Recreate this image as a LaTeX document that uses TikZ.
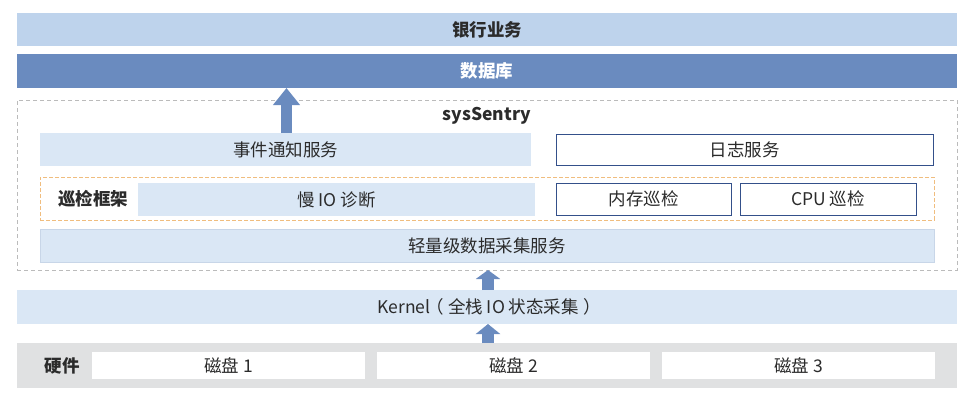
\documentclass[tikz,border=0pt]{standalone}
\usepackage{fontspec}
\setmainfont{Noto Sans CJK SC}
\usetikzlibrary{arrows.meta}
\definecolor{bankc}{HTML}{BED3EC}
\definecolor{dbc}{HTML}{6A8BBF}
\definecolor{lightc}{HTML}{DAE7F5}
\definecolor{grayc}{HTML}{E0E1E2}
\definecolor{framec}{HTML}{BBBBBB}
\definecolor{orangec}{HTML}{F0BD7E}
\definecolor{borderc}{HTML}{34508A}
\definecolor{textc}{HTML}{2B2B2B}
\definecolor{faintc}{HTML}{C8D6E8}
\tikzset{
  base/.style={inner sep=0pt, outer sep=0pt, text=textc, font=\fontsize{17.5}{19}\selectfont},
  lightbox/.style={base, fill=lightc, minimum height=33pt},
  outlinebox/.style={base, fill=white, draw=borderc, line width=1pt},
  diskbox/.style={base, fill=white, minimum width=273pt, minimum height=27pt},
  boldlabel/.style={base, font=\fontsize{17.5}{19}\selectfont\bfseries},
  bigarrow/.style={draw=dbc, line width=#1},
}
\begin{document}
\begin{tikzpicture}[x=1pt,y=-1pt]
\useasboundingbox (0,0) rectangle (971,418);
% top bars
\node[base, fill=bankc, minimum width=940pt, minimum height=33pt, font=\fontsize{17.5}{19}\selectfont\bfseries] (bank) at (487,29.5) {银行业务};
\node[base, fill=dbc, text=white, minimum width=940pt, minimum height=34pt, font=\fontsize{17.5}{19}\selectfont\bfseries] (db) at (487,71) {数据库};
% sysSentry frame
\node[base, draw=framec, dash pattern=on 4pt off 3pt, line width=0.8pt, minimum width=940pt, minimum height=170pt] (frame) at (487,185) {};
\node[boldlabel] (sys) at (487,116) {sysSentry};
\node[lightbox, minimum width=491pt] (shi) at (285.5,149.5) {事件通知服务};
\node[outlinebox, minimum width=377pt, minimum height=31pt] (log) at (744.5,149.5) {日志服务};
% inspection frame
\node[base, draw=orangec, dash pattern=on 4pt off 2pt, line width=1pt, minimum width=894pt, minimum height=43pt] (xj) at (487,198.5) {};
\node[boldlabel] (xjlabel) at (93,199) {巡检框架};
\node[lightbox, minimum width=397pt] (slow) at (336.5,199.5) {慢 IO 诊断};
\node[outlinebox, minimum width=175pt, minimum height=32pt] (mem) at (643.5,199) {内存巡检};
\node[outlinebox, minimum width=176pt, minimum height=32pt] (cpu) at (828,199) {CPU 巡检};
\node[lightbox, draw=faintc, line width=0.6pt, minimum width=894pt] (collect) at (487,245.5) {轻量级数据采集服务};
% kernel
\node[base, fill=lightc, minimum width=940pt, minimum height=34pt] (kernel) at (487,307) {Kernel\kern-0.25em（\kern0.25em全栈 IO 状态采集\kern0.25em）\kern-0.25em};
% hardware
\node[base, fill=grayc, minimum width=940pt, minimum height=45pt] (hw) at (487,365.5) {};
\node[boldlabel] (hwlabel) at (62,365.5) {硬件};
\node[diskbox] (d1) at (228.5,365.5) {磁盘 1};
\node[diskbox] (d2) at (513.5,365.5) {磁盘 2};
\node[diskbox] (d3) at (798.5,365.5) {磁盘 3};
% arrows
\coordinate (a1) at (286.5,0);
\coordinate (a2) at (488,0);
\draw[bigarrow=11pt, -{Triangle[width=26pt,length=17pt,fill=dbc]}] (shi.north -| a1) -- (db.south -| a1);
\draw[bigarrow=12pt, -{Triangle[width=24pt,length=9pt,fill=dbc]}] (kernel.north -| a2) -- (frame.south -| a2);
\draw[bigarrow=12pt, -{Triangle[width=24pt,length=10pt,fill=dbc]}] (hw.north -| a2) -- (kernel.south -| a2);
\end{tikzpicture}
\end{document}
